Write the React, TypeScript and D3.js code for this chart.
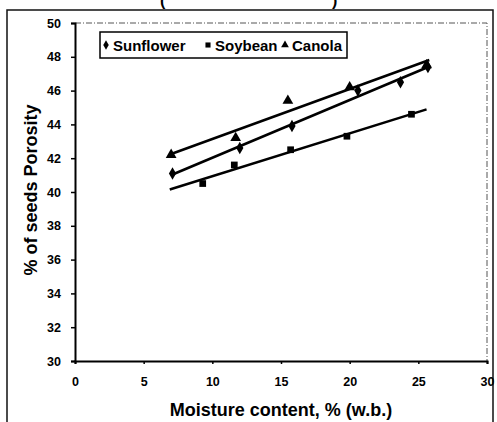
import { useEffect, useRef } from 'react';
import * as d3 from 'd3';

const seriesNames = ['Sunflower', 'Soybean', 'Canola'];
const sunflower: [number, number][] = [[7.1, 41.1], [12, 42.6], [15.8, 43.9], [20.6, 46.0], [23.7, 46.5], [25.7, 47.4]];
const soybean: [number, number][] = [[9.3, 40.5], [11.6, 41.6], [15.7, 42.5], [19.8, 43.3], [24.5, 44.6]];
const canola: [number, number][] = [[7.0, 42.2], [11.7, 43.2], [15.5, 45.4], [20.0, 46.2], [25.6, 47.5]];
const lineRanges: [number, number][] = [[7.1, 25.8], [6.9, 25.6], [7.0, 25.8]];
const xTicks = [0, 5, 10, 15, 20, 25, 30];
const yTicks = [30, 32, 34, 36, 38, 40, 42, 44, 46, 48, 50];

const symbols = [d3.symbolDiamond, d3.symbolSquare, d3.symbolTriangle];

// least squares fit
function fit(pts: [number, number][]) {
  const mx = d3.mean(pts, d => d[0])!;
  const my = d3.mean(pts, d => d[1])!;
  const sxy = d3.sum(pts, d => (d[0] - mx) * (d[1] - my));
  const sxx = d3.sum(pts, d => (d[0] - mx) ** 2);
  const b = sxy / sxx;
  return (x: number) => my + b * (x - mx);
}

export default function App() {
  const svgRef = useRef<SVGSVGElement>(null);

  useEffect(() => {
    if (!svgRef.current) return;
    const svg = d3.select(svgRef.current);
    svg.selectAll('*').remove();

    const font = '"Liberation Sans", Arial, sans-serif';
    const left = 75, right = 487, top = 23, bottom = 361;
    const x = d3.scaleLinear().domain([0, 30]).range([left, right]);
    const y = d3.scaleLinear().domain([30, 50]).range([bottom, top]);

    svg.append('rect').attr('width', 497).attr('height', 422).attr('fill', '#fff');

    // outer frame
    svg.append('path')
      .attr('d', 'M7,422V10H493V422')
      .attr('fill', 'none').attr('stroke', '#111').attr('stroke-width', 1.5);

    // remains of a title cut off by the crop
    svg.append('text').attr('x', 160).attr('y', 6).text('(')
      .attr('font-family', font).attr('font-weight', 'bold').attr('font-size', 16);
    svg.append('text').attr('x', 332).attr('y', 6).text(')')
      .attr('font-family', font).attr('font-weight', 'bold').attr('font-size', 16);

    // plot frame top/right dotted
    svg.append('path')
      .attr('d', `M${left},${top}H${right}V${bottom}`)
      .attr('fill', 'none').attr('stroke', '#555').attr('stroke-width', 1)
      .attr('stroke-dasharray', '6,2,1,2');

    const yAxis = svg.append('g').attr('transform', `translate(${left},0)`)
      .call(d3.axisLeft(y).tickValues(yTicks).tickSize(4).tickPadding(10).tickFormat(d3.format('d')));
    const xAxis = svg.append('g').attr('transform', `translate(0,${bottom})`)
      .call(d3.axisBottom(x).tickValues(xTicks).tickSize(3).tickPadding(13).tickFormat(d3.format('d')));
    [xAxis, yAxis].forEach(a => {
      a.select('.domain').attr('stroke', '#000').attr('stroke-width', 2);
      a.selectAll('.tick line').attr('stroke', '#000').attr('stroke-width', 1.5);
      a.selectAll('.tick text').attr('font-family', font).attr('font-weight', 'bold')
        .attr('font-size', 12.5).attr('fill', '#000');
    });

    const data = [sunflower, soybean, canola];
    data.forEach((pts, i) => {
      const f = fit(pts);
      const [x0, x1] = lineRanges[i];
      svg.append('line')
        .attr('x1', x(x0)).attr('y1', y(f(x0)))
        .attr('x2', x(x1)).attr('y2', y(f(x1)))
        .attr('stroke', '#000').attr('stroke-width', 2.5);
      svg.append('g').selectAll('path').data(pts).join('path')
        .attr('transform', d => `translate(${x(d[0])},${y(d[1])})`)
        .attr('d', d3.symbol(symbols[i], i === 2 ? 50 : 45)())
        .attr('fill', '#000');
    });

    // legend
    const lg = svg.append('g');
    lg.append('rect').attr('x', 100).attr('y', 32).attr('width', 247).attr('height', 26)
      .attr('fill', '#fff').attr('stroke', '#000').attr('stroke-width', 1.5);
    const lx = [106, 208, 285];
    seriesNames.forEach((name, i) => {
      lg.append('path').attr('transform', `translate(${lx[i]},45)`)
        .attr('d', d3.symbol(symbols[i], 26)()).attr('fill', '#000');
      lg.append('text').attr('x', lx[i] + 7).attr('y', 50.5).text(name)
        .attr('font-family', font).attr('font-weight', 'bold').attr('font-size', 15);
    });

    svg.append('text').attr('x', 281).attr('y', 416).attr('text-anchor', 'middle')
      .text('Moisture content, % (w.b.)')
      .attr('font-family', font).attr('font-weight', 'bold').attr('font-size', 18);
    svg.append('text').attr('transform', 'translate(37,190) rotate(-90)').attr('text-anchor', 'middle')
      .text('% of seeds Porosity')
      .attr('font-family', font).attr('font-weight', 'bold').attr('font-size', 18);
  }, []);

  return (
    <svg ref={svgRef} width={497} height={422}
      style={{ position: 'absolute', left: 0, top: 0, display: 'block' }} />
  );
}
